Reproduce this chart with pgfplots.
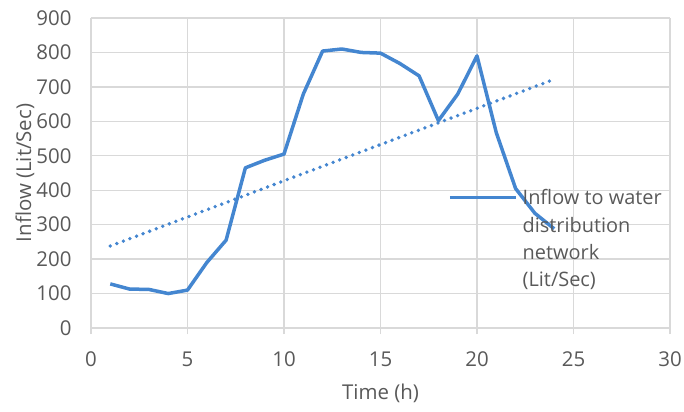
\documentclass[border=0pt]{standalone}
\usepackage{pgfplots}
\usepackage{pgfplotstable}
\pgfplotsset{compat=1.18}
\usepackage{fontspec}
\setmainfont{Open Sans}

\definecolor{seriesblue}{RGB}{68,134,208}
\definecolor{gridgray}{RGB}{217,217,217}
\definecolor{textgray}{RGB}{89,89,89}

% Hourly inflow to the water distribution network (Lit/Sec)
\pgfplotstableread{
hour inflow
1 128
2 113
3 112
4 100
5 110
6 190
7 255
8 465
9 487
10 505
11 679
12 804
13 810
14 800
15 798
16 768
17 732
18 602
19 679
20 790
21 567
22 405
23 333
24 288
}\inflowdata

\begin{document}
\begin{tikzpicture}
\useasboundingbox (-91bp,-84bp) rectangle (593bp,328bp);
\begin{axis}[
  scale only axis,
  width=579bp, height=310bp,
  xmin=0, xmax=30, ymin=0, ymax=900,
  xtick={0,5,...,30}, ytick={0,100,...,900},
  grid=major,
  major grid style={gridgray, line width=1.3bp},
  axis line style={gridgray, line width=1.3bp},
  axis x line*=bottom, axis y line*=left,
  xtick pos=bottom,
  tick align=outside,
  major tick length=6bp,
  xtick style={gridgray, line width=1.3bp},
  ytick style={draw=none},
  /pgf/number format/assume math mode=true,
  /pgf/number format/1000 sep={},
  ticklabel style={font=\fontsize{20.5}{24}\selectfont, text=textgray},
  xticklabel style={yshift=-14bp},
  yticklabel style={xshift=-10bp},
  label style={font=\fontsize{20.5}{24}\selectfont, text=textgray},
  xlabel={Time (h)},
  ylabel={Inflow (Lit/Sec)},
  xlabel style={at={(axis description cs:0.5,-0.21)}, anchor=center},
  ylabel style={at={(axis description cs:-0.114,0.5)}, anchor=center},
  legend style={
    at={(rel axis cs:0.6166,0.539)}, anchor=north west,
    draw=none, fill=none, inner sep=0pt,
    font=\fontsize{20}{27.5}\selectfont, text=textgray,
    cells={align=left, anchor=north west},
    /tikz/every odd column/.append style={column sep=3bp},
  },
  legend image code/.code={%
    \path (0bp,24.5bp);
    \draw[#1] (0bp,-10bp) -- (66bp,-10bp);},
  clip=false,
]
\addplot[seriesblue, line width=3.5bp, line join=round] table[x=hour, y=inflow] {\inflowdata};
\addlegendentry{Inflow to water\\distribution\\network\\(Lit/Sec)}
% linear trend of the hourly inflow
\addplot[seriesblue, line width=3.8bp, line cap=round, dash pattern=on 0pt off 7bp, forget plot]
  table[x=hour, y={create col/linear regression={y=inflow}}] {\inflowdata};
\end{axis}
\end{tikzpicture}
\end{document}
